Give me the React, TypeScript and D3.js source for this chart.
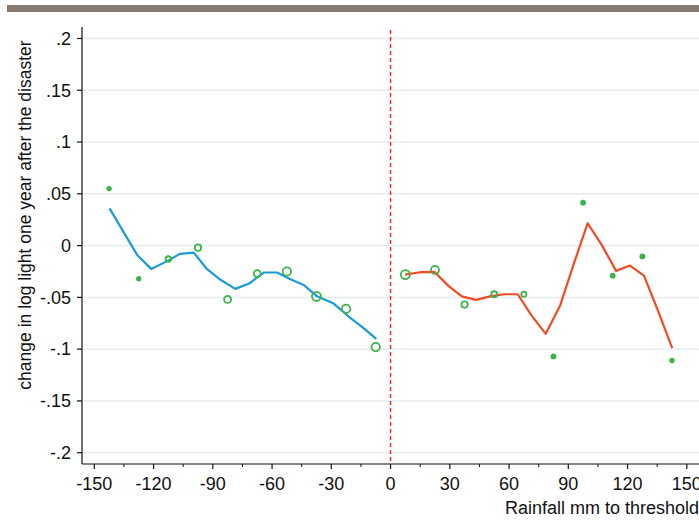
import React from 'react';
import * as d3 from 'd3';

// binned means (green circles), marker radius reflects bin weight
const leftBinX = [-142.5, -127.5, -112.5, -97.5, -82.5, -67.5, -52.5, -37.5, -22.5, -7.5];
const leftBinY = [0.055, -0.032, -0.013, -0.002, -0.052, -0.027, -0.025, -0.049, -0.061, -0.098];
const leftBinW = [1.8, 1.8, 2.8, 3.2, 3.5, 3.5, 4.2, 4.5, 4.2, 4.2];

const rightBinX = [7.5, 22.5, 37.5, 52.5, 67.5, 82.5, 97.5, 112.5, 127.5, 142.5];
const rightBinY = [-0.028, -0.0235, -0.057, -0.047, -0.047, -0.107, 0.0415, -0.029, -0.0105, -0.111];
const rightBinW = [4.5, 4, 3.2, 3, 2.6, 2, 2, 2, 2, 1.8];

// local fit lines
const leftFitX = [-142.3, -128.3, -121.2, -112.6, -106.7, -99.6, -92.9, -86.1, -78.6, -71.3, -64.2, -57.5, -50.7, -44, -37.2, -29.1, -21.2, -13.7, -7.2];
const leftFitY = [0.036, -0.009, -0.0225, -0.0145, -0.008, -0.0068, -0.0228, -0.033, -0.0418, -0.0363, -0.026, -0.026, -0.0325, -0.038, -0.049, -0.0556, -0.0685, -0.0797, -0.09];

const rightFitX = [7.4, 15, 22.3, 29.3, 36.1, 43.3, 50.4, 57.5, 64.4, 71.5, 78.6, 85.8, 92.9, 99.8, 106.9, 114.2, 121.2, 128.3, 135.6, 142.6];
const rightFitY = [-0.028, -0.0257, -0.0254, -0.0389, -0.049, -0.0524, -0.049, -0.047, -0.047, -0.0679, -0.0852, -0.0582, -0.017, 0.0216, 0.0007, -0.0244, -0.0193, -0.029, -0.0637, -0.099];

const xTicks = [-150, -120, -90, -60, -30, 0, 30, 60, 90, 120, 150];
const yTicks = [0.2, 0.15, 0.1, 0.05, 0, -0.05, -0.1, -0.15, -0.2];

const width = 699;
const height = 521;
const font = '"Liberation Sans", Arial, Helvetica, sans-serif';

const fmtY = (v: number) => {
  if (v === 0) return '0';
  const s = String(v);
  return s.replace('0.', '.');
};

const App: React.FC = () => {
  const x = d3.scaleLinear().domain([-150, 150]).range([94.3, 686.8]);
  const y = d3.scaleLinear().domain([-0.2, 0.2]).range([452.7, 38.5]);

  const axisX = 82;
  const axisY = 464;
  const top = 27;

  const line = d3
    .line<[number, number]>()
    .x((d) => x(d[0]))
    .y((d) => y(d[1]));

  const leftFit = leftFitX.map((v, i) => [v, leftFitY[i]] as [number, number]);
  const rightFit = rightFitX.map((v, i) => [v, rightFitY[i]] as [number, number]);

  const minorTicks = d3.range(-135, 160, 30);

  return (
    <svg
      width={width}
      height={height}
      style={{ position: 'absolute', left: 0, top: 0, background: '#fff' }}
      fontFamily={font}
    >
      {/* top band */}
      <rect x={7} y={5} width={width - 7} height={7} fill="#867a71" />

      {/* gridlines */}
      {yTicks.map((t) => (
        <line key={'g' + t} x1={axisX} x2={width} y1={y(t)} y2={y(t)} stroke="#e4ecf0" strokeWidth={1.5} />
      ))}

      {/* y axis */}
      <line x1={axisX} x2={axisX} y1={top} y2={axisY} stroke="#111" strokeWidth={1.2} />
      {yTicks.map((t) => (
        <g key={'y' + t}>
          <line x1={axisX - 5} x2={axisX} y1={y(t)} y2={y(t)} stroke="#111" strokeWidth={1.2} />
          <text x={71} y={y(t)} dy="0.35em" textAnchor="end" fontSize={18} fill="#111">
            {fmtY(t)}
          </text>
        </g>
      ))}
      <text
        transform={`translate(31,${215}) rotate(-90)`}
        textAnchor="middle"
        fontSize={17.5}
        fill="#111"
      >
        change in log light one year after the disaster
      </text>

      {/* x axis */}
      <line x1={axisX} x2={width} y1={axisY} y2={axisY} stroke="#111" strokeWidth={1.2} />
      {xTicks.map((t) => (
        <g key={'x' + t}>
          <line x1={x(t)} x2={x(t)} y1={axisY} y2={axisY + 5} stroke="#111" strokeWidth={1.2} />
          <text x={x(t)} y={490} textAnchor="middle" fontSize={18} fill="#111">
            {t}
          </text>
        </g>
      ))}
      {minorTicks.map((t) => (
        <line key={'m' + t} x1={x(t)} x2={x(t)} y1={axisY} y2={axisY + 3} stroke="#111" strokeWidth={1} />
      ))}
      <text x={699} y={514} textAnchor="end" fontSize={18} fill="#111">
        Rainfall mm to threshold
      </text>

      {/* threshold */}
      <line
        x1={x(0)}
        x2={x(0)}
        y1={top + 3}
        y2={axisY}
        stroke="#e3342c"
        strokeWidth={1.5}
        strokeDasharray="4,3"
      />

      {/* fits */}
      <path d={line(leftFit) || ''} fill="none" stroke="#1b9bd7" strokeWidth={2.2} strokeLinejoin="round" />
      <path d={line(rightFit) || ''} fill="none" stroke="#f04c24" strokeWidth={2.2} strokeLinejoin="round" />

      {/* bins */}
      {leftBinX.map((v, i) => (
        <circle
          key={'lb' + i}
          cx={x(v)}
          cy={y(leftBinY[i])}
          r={leftBinW[i]}
          fill={leftBinW[i] < 2.2 ? '#3cb44a' : 'none'}
          stroke="#3cb44a"
          strokeWidth={1.8}
        />
      ))}
      {rightBinX.map((v, i) => (
        <circle
          key={'rb' + i}
          cx={x(v)}
          cy={y(rightBinY[i])}
          r={rightBinW[i]}
          fill={rightBinW[i] < 2.2 ? '#3cb44a' : 'none'}
          stroke="#3cb44a"
          strokeWidth={1.8}
        />
      ))}
    </svg>
  );
};

export default App;
